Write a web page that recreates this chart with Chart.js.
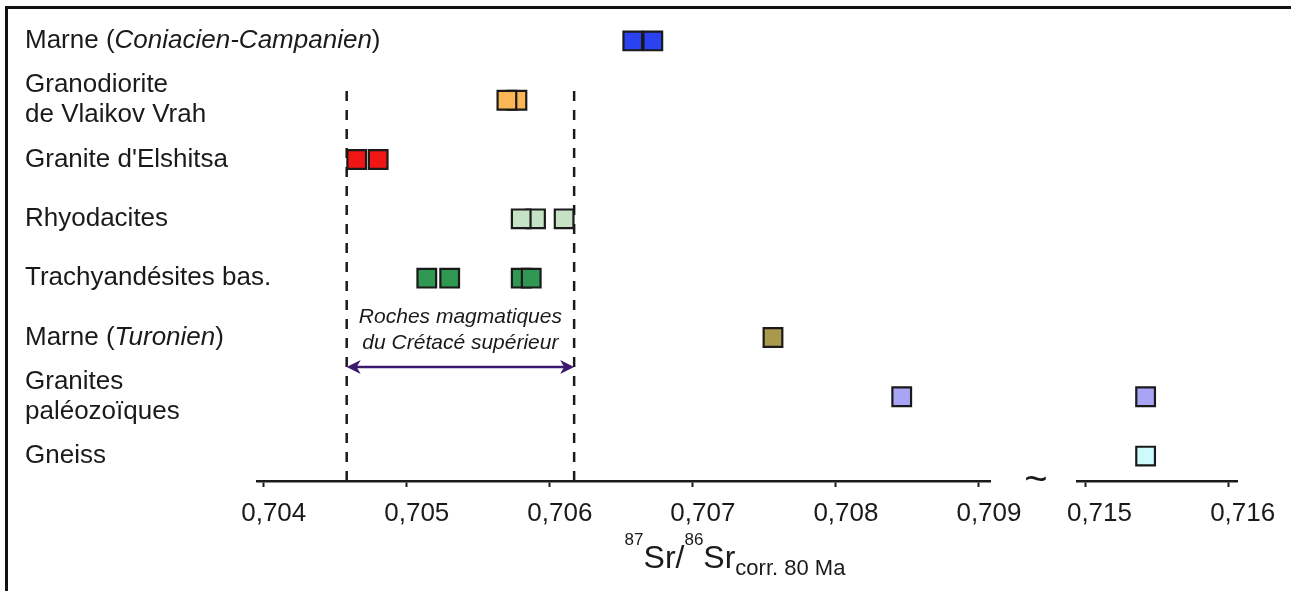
<!DOCTYPE html>
<html>
<head>
<meta charset="utf-8">
<script src="https://cdn.jsdelivr.net/npm/chart.js@4.4.0/dist/chart.umd.min.js"></script>
<style>
  html, body { margin: 0; padding: 0; background: #fff; }
  #wrap { position: relative; width: 1291px; height: 591px; }
  .frame-top { position: absolute; left: 5px; top: 6px; width: 1286px; height: 3px; background: #111; }
  .frame-left { position: absolute; left: 5px; top: 6px; width: 3px; height: 585px; background: #111; }
</style>
</head>
<body>
<div id="wrap">
  <canvas id="chart"></canvas>
  <div class="frame-top"></div>
  <div class="frame-left"></div>
</div>
<script>
// rows, top to bottom (text between * is italic)
const rowLabels = [
  'Marne (*Coniacien-Campanien*)',
  'Granodiorite\nde Vlaikov Vrah',
  "Granite d'Elshitsa",
  'Rhyodacites',
  'Trachyandésites bas.',
  'Marne (*Turonien*)',
  'Granites\npaléozoïques',
  'Gneiss'
];

// 87Sr/86Sr values per row
const marneConiacien = [0.70658, 0.70672];
const granodiorite = [0.70577, 0.70570];
const graniteElshitsa = [0.70465, 0.70480];
const rhyodacites = [0.70590, 0.70580, 0.70610];
const trachyandesites = [0.70514, 0.70530, 0.70580, 0.70587];
const marneTuronien = [0.70756];
const granitesPaleo = [0.70846, 0.71542];
const gneiss = [0.71542];

const xTicksLow = [0.704, 0.705, 0.706, 0.707, 0.708, 0.709];
const xTicksHigh = [0.715, 0.716];
const magmaticRange = [0.70458, 0.70617];
const annotationLines = ['Roches magmatiques', 'du Crétacé supérieur'];

const rowValues = [marneConiacien, granodiorite, graniteElshitsa, rhyodacites,
  trachyandesites, marneTuronien, granitesPaleo, gneiss];
const rowColors = ['#2a42ef', '#fbb756', '#f01616', '#c6e2c6', '#2f9953', '#a9994c', '#a9a5f6', '#cdfbfb'];

const FONT = '"Liberation Sans", Arial, sans-serif';
const INK = '#1a1a1a';
const AXIS_BREAK = 0.712;

const datasets = [];
rowValues.forEach((vals, row) => {
  const low = vals.filter(v => v < AXIS_BREAK);
  const high = vals.filter(v => v >= AXIS_BREAK);
  [[low, 'x'], [high, 'x2']].forEach(([arr, axis]) => {
    if (!arr.length) return;
    datasets.push({
      label: rowLabels[row],
      xAxisID: axis,
      data: arr.map(v => ({ x: v, y: row })),
      pointStyle: 'rect',
      pointRadius: 13.2,
      pointHoverRadius: 13.2,
      pointBorderWidth: 2.2,
      pointBorderColor: INK,
      pointBackgroundColor: rowColors[row]
    });
  });
});

const fixHeight = s => { s.height = 90; s.paddingLeft = 0; s.paddingRight = 0; };
const fmt = v => v.toFixed(3).replace('.', ',');

const xAxisBase = (ticks, offset) => ({
  type: 'linear',
  position: 'bottom',
  stack: 'bottom',
  stacked: false,
  afterBuildTicks: s => { s.ticks = ticks.map(v => ({ value: v })); },
  afterFit: fixHeight,
  border: { display: true, color: INK, width: 2.5 },
  grid: { display: true, drawOnChartArea: false, drawTicks: true, tickLength: 6, tickWidth: 2, tickColor: INK },
  ticks: {
    autoSkip: false, maxRotation: 0, padding: 11, labelOffset: offset,
    color: INK, font: { family: FONT, size: 26 },
    callback: v => fmt(v)
  }
});

function drawRich(ctx, line, x, y, size) {
  line.split('*').forEach((part, i) => {
    if (!part) return;
    ctx.font = (i % 2 ? 'italic ' : '') + size + 'px ' + FONT;
    ctx.fillText(part, x, y);
    x += ctx.measureText(part).width;
  });
}

const overlay = {
  id: 'overlay',
  beforeDatasetsDraw(chart) {
    const { ctx, chartArea } = chart;
    const xs = chart.scales.x, ys = chart.scales.y;
    const xl = xs.getPixelForValue(magmaticRange[0]);
    const xr = xs.getPixelForValue(magmaticRange[1]);
    const top = ys.getPixelForValue(0.75);
    ctx.save();
    ctx.strokeStyle = INK;
    ctx.lineWidth = 2.5;
    ctx.setLineDash([10, 9]);
    [xl, xr].forEach(px => {
      ctx.beginPath();
      ctx.moveTo(px, chartArea.bottom);
      ctx.lineTo(px, top);
      ctx.stroke();
    });
    ctx.setLineDash([]);

    // double arrow
    const ya = ys.getPixelForValue(5.5);
    ctx.strokeStyle = ctx.fillStyle = '#3b1a6e';
    ctx.beginPath();
    ctx.moveTo(xl + 6, ya);
    ctx.lineTo(xr - 6, ya);
    ctx.stroke();
    [[xl, 1], [xr, -1]].forEach(([px, d]) => {
      ctx.beginPath();
      ctx.moveTo(px, ya);
      ctx.lineTo(px + d * 14, ya - 7);
      ctx.lineTo(px + d * 10, ya);
      ctx.lineTo(px + d * 14, ya + 7);
      ctx.closePath();
      ctx.fill();
    });

    ctx.fillStyle = INK;
    ctx.font = 'italic 21px ' + FONT;
    ctx.textAlign = 'center';
    ctx.textBaseline = 'middle';
    const xm = (xl + xr) / 2;
    ctx.fillText(annotationLines[0], xm, ya - 50);
    ctx.fillText(annotationLines[1], xm, ya - 24);
    ctx.restore();
  },
  afterDraw(chart) {
    const { ctx, chartArea } = chart;
    const ys = chart.scales.y;
    ctx.save();
    ctx.fillStyle = INK;
    ctx.textAlign = 'left';
    ctx.textBaseline = 'middle';
    rowLabels.forEach((label, i) => {
      const lines = label.split('\n');
      const y0 = ys.getPixelForValue(i) - (lines.length - 1) * 15;
      lines.forEach((ln, k) => drawRich(ctx, ln, 25, y0 + k * 30, 26));
    });

    // axis break mark
    const g = chart.scales.xGap;
    ctx.textAlign = 'center';
    ctx.font = '40px ' + FONT;
    ctx.fillText('~', (g.left + g.right) / 2 + 2, g.top);

    // axis title: 87Sr/86Sr corr. 80 Ma
    const parts = [
      ['87', 17, -23], ['Sr/', 32, 0], ['86', 17, -23], ['Sr', 32, 0], ['corr. 80 Ma', 22, 7]
    ];
    ctx.textAlign = 'left';
    ctx.textBaseline = 'alphabetic';
    let total = 0;
    parts.forEach(([t, s]) => { ctx.font = s + 'px ' + FONT; total += ctx.measureText(t).width; });
    let x = (chartArea.left + chartArea.right) / 2 - total / 2 - 12;
    const base = chartArea.bottom + 87;
    parts.forEach(([t, s, dy]) => {
      ctx.font = s + 'px ' + FONT;
      ctx.fillText(t, x, base + dy);
      x += ctx.measureText(t).width;
    });
    ctx.restore();
  }
};

new Chart(document.getElementById('chart'), {
  type: 'scatter',
  data: { datasets },
  options: {
    responsive: true,
    maintainAspectRatio: false,
    animation: false,
    events: [],
    layout: { padding: { left: 257, right: 54, top: 15, bottom: 20 } },
    plugins: { legend: { display: false }, tooltip: { enabled: false } },
    scales: {
      x: Object.assign(xAxisBase(xTicksLow, 10), { min: 0.703953, max: 0.709082, stackWeight: 733.7 }),
      xGap: {
        type: 'linear', position: 'bottom', stack: 'bottom', stacked: false,
        stackWeight: 86.3, min: 0, max: 1,
        afterBuildTicks: s => { s.ticks = []; },
        afterFit: fixHeight,
        border: { display: false },
        grid: { display: false },
        ticks: { display: false }
      },
      x2: Object.assign(xAxisBase(xTicksHigh, 14), { min: 0.714941, max: 0.716058, stackWeight: 160 }),
      y: { type: 'linear', reverse: true, min: -0.43, max: 7.42, display: false, stacked: false }
    }
  },
  plugins: [overlay]
});
</script>
</body>
</html>
